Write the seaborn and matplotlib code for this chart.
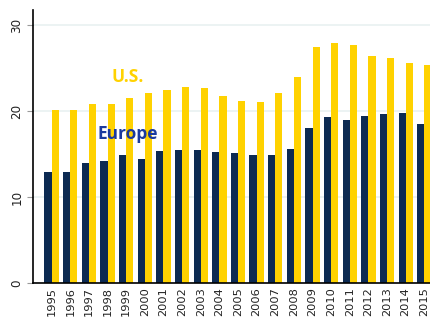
import matplotlib
matplotlib.use("Agg")
import matplotlib.pyplot as plt
import seaborn as sns
import pandas as pd

years = [str(y) for y in range(1995, 2016)]
europe = [13.0, 13.0, 14.0, 14.2, 14.9, 14.5, 15.4, 15.5, 15.5, 15.3, 15.2,
          14.9, 14.9, 15.6, 18.1, 19.4, 19.05, 19.5, 19.7, 19.8, 18.5]
us = [20.2, 20.2, 20.9, 20.9, 21.6, 22.2, 22.5, 22.8, 22.7, 21.8, 21.2,
      21.1, 22.1, 24.0, 27.5, 28.0, 27.7, 26.5, 26.2, 25.6, 25.4]
regions = ["Europe", "U.S."]
yticks = [0, 10, 20, 30]

navy = "#0c2a52"
gold = "#ffd200"

df = pd.DataFrame({
    "year": years * 2,
    "value": europe + us,
    "region": [regions[0]] * len(years) + [regions[1]] * len(years),
})

sns.set_style("white")
fig = plt.figure(figsize=(4.30, 3.24), dpi=100)
ax = fig.add_axes([0.0767, 0.1256, 0.93, 0.8435])

sns.barplot(data=df, x="year", y="value", hue="region", hue_order=regions,
            palette=[navy, gold], width=0.77, gap=0, saturation=1,
            legend=False, ax=ax, edgecolor="none")

ax.set_xlim(-1.0, 20.46)
ax.set_ylim(0, 31.8)
ax.set_yticks(yticks)
ax.set_yticklabels([str(t) for t in yticks], rotation=90, va="center")
ax.yaxis.grid(True, color="#e9f1f1", lw=1.2)
ax.set_axisbelow(True)
ax.set_xlabel("")
ax.set_ylabel("")
ax.tick_params(axis="x", labelrotation=90, labelsize=8.2, length=0, pad=3,
               labelcolor="#222222")
ax.tick_params(axis="y", labelsize=8.6, length=4, width=0.8, color="#999999",
               pad=3, labelcolor="#222222", left=True)
for side in ["top", "right"]:
    ax.spines[side].set_visible(False)
for side in ["left", "bottom"]:
    ax.spines[side].set_color("black")
    ax.spines[side].set_linewidth(1.2)

ax.text(4.1, 24.0, "U.S.", color=gold, fontsize=12.5, fontweight="bold",
        family=["Open Sans", "DejaVu Sans"], ha="center", va="center")
ax.text(4.1, 17.4, "Europe", color="#1a3a9e", fontsize=12.5, fontweight="bold",
        family=["Open Sans", "DejaVu Sans"], ha="center", va="center")

fig.savefig("out.png", dpi=100)
